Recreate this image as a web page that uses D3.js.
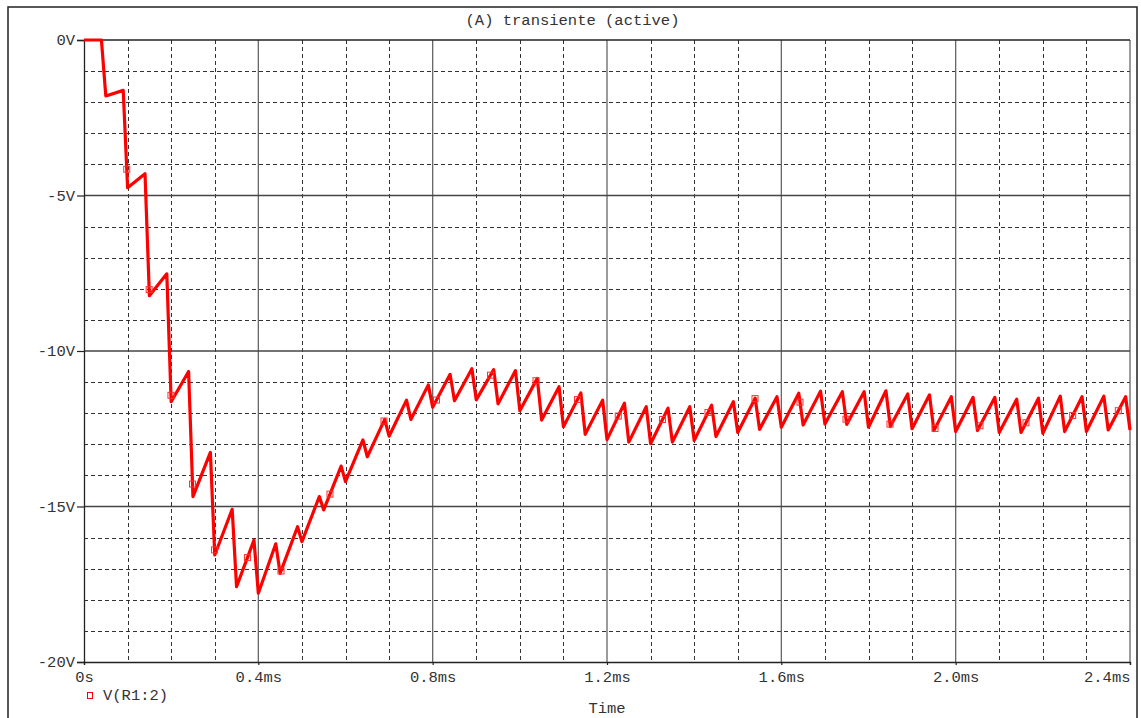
<!DOCTYPE html>
<html>
<head>
<meta charset="utf-8">
<script src="https://cdn.jsdelivr.net/npm/d3@7"></script>
<style>
  html, body { margin: 0; padding: 0; background: #ffffff; }
  svg { display: block; }
  text { font-family: "Liberation Mono", "Courier New", monospace; fill: #333; }
</style>
</head>
<body>
<svg id="chart" width="1141" height="718"></svg>
<script>
// Transient simulation of V(R1:2): time in ms, voltage in V
const timeMs = [
  0, 0.04,
  0.05, 0.09, 0.10, 0.14, 0.15, 0.19, 0.20, 0.24, 0.25, 0.29, 0.30, 0.34, 0.35, 0.39,
  0.40, 0.44, 0.45, 0.49, 0.50, 0.54, 0.55, 0.59, 0.60, 0.64, 0.65, 0.69, 0.70, 0.74, 0.75, 0.79,
  0.80, 0.84, 0.85, 0.89, 0.90, 0.94, 0.95, 0.99, 1.00, 1.04, 1.05, 1.09, 1.10, 1.14, 1.15, 1.19,
  1.20, 1.24, 1.25, 1.29, 1.30, 1.34, 1.35, 1.39, 1.40, 1.44, 1.45, 1.49, 1.50, 1.54, 1.55, 1.59,
  1.60, 1.64, 1.65, 1.69, 1.70, 1.74, 1.75, 1.79, 1.80, 1.84, 1.85, 1.89, 1.90, 1.94, 1.95, 1.99,
  2.00, 2.04, 2.05, 2.09, 2.10, 2.14, 2.15, 2.19, 2.20, 2.24, 2.25, 2.29, 2.30, 2.34, 2.35, 2.39,
  2.40
];

const voltage = [
  0, 0,
  -1.80, -1.62, -4.75, -4.30, -8.22, -7.52, -11.63, -10.66, -14.68, -13.26, -16.56, -15.09, -17.58, -16.08,
  -17.79, -16.20, -17.15, -15.65, -16.13, -14.68, -15.11, -13.70, -14.20, -12.86, -13.40, -12.20, -12.74, -11.58, -12.20, -11.09,
  -11.81, -10.75, -11.60, -10.57, -11.57, -10.60, -11.70, -10.63, -11.92, -10.88, -12.22, -11.15, -12.44, -11.35, -12.68, -11.58,
  -12.85, -11.68, -12.93, -11.79, -12.98, -11.84, -12.93, -11.79, -12.88, -11.74, -12.75, -11.63, -12.62, -11.52, -12.52, -11.47,
  -12.45, -11.36, -12.38, -11.29, -12.35, -11.31, -12.36, -11.31, -12.45, -11.28, -12.43, -11.38, -12.50, -11.41, -12.56, -11.47,
  -12.59, -11.49, -12.56, -11.49, -12.62, -11.55, -12.62, -11.52, -12.65, -11.45, -12.59, -11.47, -12.59, -11.45, -12.54, -11.47,
  -12.54
];

// Times (ms) where the trace symbol is drawn
const markerTimes = [
  0.0981, 0.1495, 0.1995, 0.249, 0.2995, 0.375, 0.452, 0.5644, 0.6883, 0.8088,
  0.9327, 1.0371, 1.1323, 1.2259, 1.3273, 1.4317, 1.5396, 1.6428, 1.7484, 1.8493,
  1.9526, 2.0558, 2.1614, 2.2685, 2.3732
];

const xTicks = [0, 0.4, 0.8, 1.2, 1.6, 2.0, 2.4];
const yTicks = [0, -5, -10, -15, -20];
const xMinorStep = 0.1;
const yMinorStep = 1;

const title = "(A) transiente (active)";
const traceName = "V(R1:2)";
const xTitle = "Time";

const svg = d3.select("#chart");
const FONT = 15.5;

const x = d3.scaleLinear().domain([0, 2.4]).range([84, 1130]);
const y = d3.scaleLinear().domain([-20, 0]).range([662, 40]);

// Outer frame
svg.append("rect")
  .attr("x", 8).attr("y", 7)
  .attr("width", 1129).attr("height", 740)
  .attr("fill", "none").attr("stroke", "#222").attr("stroke-width", 1.5);

// Title
svg.append("text")
  .attr("x", 572.5).attr("y", 25)
  .attr("text-anchor", "middle")
  .style("font-size", FONT + "px")
  .text(title);

// Grid
const grid = svg.append("g");
const xMinor = d3.range(0, 2.4 + 1e-9, xMinorStep).filter(t => !xTicks.some(k => Math.abs(k - t) < 1e-6));
const yMinor = d3.range(-20, 0 + 1e-9, yMinorStep).filter(v => !yTicks.some(k => Math.abs(k - v) < 1e-6));

grid.selectAll("line.xminor").data(xMinor).join("line")
  .attr("x1", d => Math.round(x(d)) + 0.5).attr("x2", d => Math.round(x(d)) + 0.5)
  .attr("y1", y(0)).attr("y2", y(-20))
  .attr("stroke", "#333").attr("stroke-width", 1).attr("stroke-dasharray", "4,3");

grid.selectAll("line.yminor").data(yMinor).join("line")
  .attr("y1", d => Math.round(y(d)) + 0.5).attr("y2", d => Math.round(y(d)) + 0.5)
  .attr("x1", x(0)).attr("x2", x(2.4))
  .attr("stroke", "#333").attr("stroke-width", 1).attr("stroke-dasharray", "4,3");

grid.selectAll("line.xmajor").data(xTicks.slice(1)).join("line")
  .attr("x1", d => x(d)).attr("x2", d => x(d))
  .attr("y1", y(0)).attr("y2", y(-20))
  .attr("stroke", "#666").attr("stroke-width", 1.3);

grid.selectAll("line.ymajor").data(yTicks.slice(1, -1)).join("line")
  .attr("y1", d => y(d)).attr("y2", d => y(d))
  .attr("x1", x(0)).attr("x2", x(2.4))
  .attr("stroke", "#444").attr("stroke-width", 1.3);

// Plot border line at 0 V
svg.append("line").attr("x1", x(0)).attr("x2", x(2.4)).attr("y1", y(0)).attr("y2", y(0))
  .attr("stroke", "#222").attr("stroke-width", 1.3);

// Axes
const yAxis = d3.axisLeft(y).tickValues(yTicks).tickSize(7).tickPadding(2)
  .tickFormat(d => `${d}V`);
const gy = svg.append("g").attr("transform", `translate(${x(0)},0)`).call(yAxis);
gy.select(".domain").attr("stroke", "#222").attr("stroke-width", 1.3);
gy.selectAll(".tick line").attr("stroke", "#222").attr("stroke-width", 1.2);
gy.selectAll(".tick text").style("font-size", FONT + "px").attr("fill", "#444")
  .style("font-family", "'Liberation Mono', monospace");

const xAxis = d3.axisBottom(x).tickValues(xTicks).tickSize(3).tickPadding(6)
  .tickFormat(d => d === 0 ? "0s" : `${d.toFixed(1)}ms`);
const gx = svg.append("g").attr("transform", `translate(0,${y(-20)})`).call(xAxis);
gx.select(".domain").attr("stroke", "#222").attr("stroke-width", 1.3);
gx.selectAll(".tick line").attr("stroke", "#222").attr("stroke-width", 1.2);
gx.selectAll(".tick text").style("font-size", FONT + "px").attr("fill", "#444")
  .style("font-family", "'Liberation Mono', monospace")
  .attr("text-anchor", d => d === 2.4 ? "end" : "middle");

// X axis title
svg.append("text")
  .attr("x", (x(0) + x(2.4)) / 2).attr("y", 713)
  .attr("text-anchor", "middle")
  .style("font-size", FONT + "px")
  .text(xTitle);

// Trace
const series = timeMs.map((t, i) => ({ t, v: voltage[i] })).filter(d => d.v !== undefined);
svg.append("clipPath").attr("id", "plotclip").append("rect")
  .attr("x", x(0) - 2).attr("y", y(0) - 3).attr("width", x(2.4) - x(0) + 4).attr("height", y(-20) - y(0) + 6);

const line = d3.line().x(d => x(d.t)).y(d => y(d.v));
svg.append("path")
  .datum(series)
  .attr("d", line)
  .attr("fill", "none")
  .attr("stroke", "#ff0000")
  .attr("stroke-width", 3.2)
  .attr("stroke-linejoin", "round")
  .attr("clip-path", "url(#plotclip)");

// Trace symbols sit on the waveform
const bis = d3.bisector(d => d.t).left;
function valueAt(t) {
  const i = Math.max(1, Math.min(series.length - 1, bis(series, t)));
  const a = series[i - 1], b = series[i];
  const f = (t - a.t) / (b.t - a.t);
  return a.v + f * (b.v - a.v);
}
svg.selectAll("rect.marker").data(markerTimes).join("rect")
  .attr("class", "marker")
  .attr("x", d => x(d) - 3).attr("y", d => y(valueAt(d)) - 3)
  .attr("width", 6).attr("height", 6)
  .attr("fill", "none").attr("stroke", "#ff3030").attr("stroke-width", 1);

// Legend
svg.append("rect")
  .attr("x", 87.5).attr("y", 692.5).attr("width", 5).attr("height", 6)
  .attr("fill", "none").attr("stroke", "#ff0000").attr("stroke-width", 1);
svg.append("text")
  .attr("x", 103).attr("y", 700)
  .style("font-size", FONT + "px")
  .text(traceName);
</script>
</body>
</html>
